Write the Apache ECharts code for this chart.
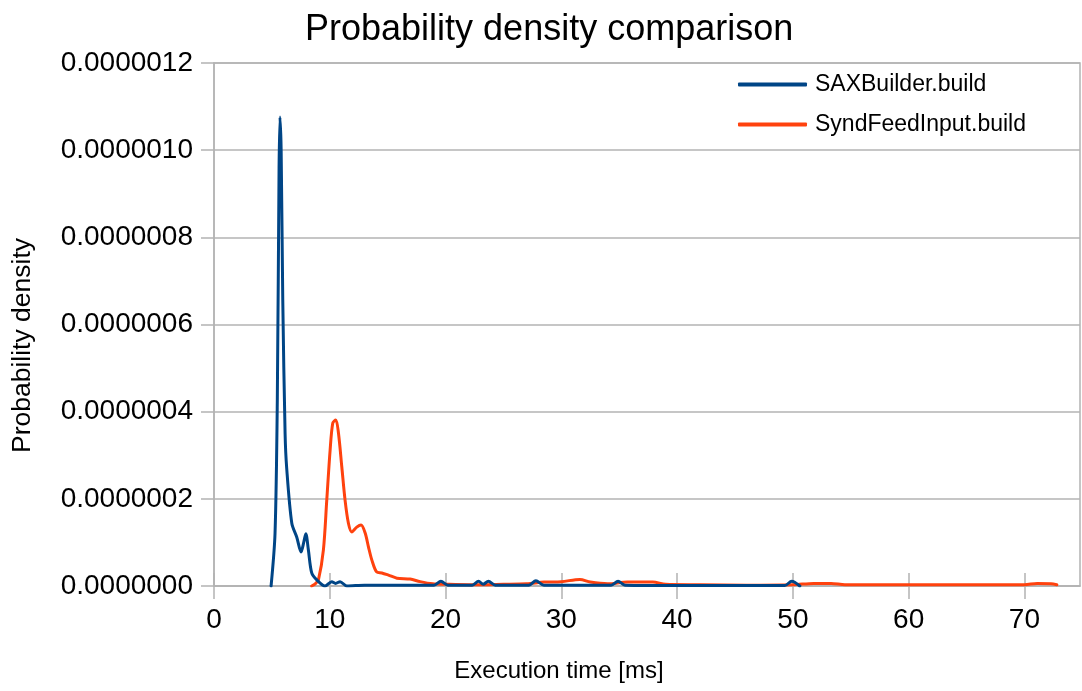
<!DOCTYPE html>
<html>
<head>
<meta charset="utf-8">
<script src="https://cdn.jsdelivr.net/npm/echarts@6/dist/echarts.min.js"></script>
<style>html,body{margin:0;padding:0;background:#fff}#c{width:1082px;height:691px}</style>
</head>
<body>
<div id="c"></div>
<script>
const titleText = 'Probability density comparison';
const seriesNames = ['SAXBuilder.build', 'SyndFeedInput.build'];
const xTicks = [0, 10, 20, 30, 40, 50, 60, 70];
const yTicks = [0, 0.0000002, 0.0000004, 0.0000006, 0.0000008, 0.000001, 0.0000012];

// [execution time ms, density x 1e-6]
const saxBuilder = [
  [4.93,0],[5.27,0.12],[5.47,0.43],[5.62,0.96],[5.70,1.076],[5.80,1.0],[5.94,0.656],
  [6.14,0.35],[6.28,0.27],[6.72,0.144],[7.15,0.112],[7.52,0.078],[7.75,0.1],[7.93,0.12],
  [8.15,0.083],[8.44,0.03],[8.88,0.014],[9.59,0.0],[10.17,0.01],[10.5,0.006],[10.89,0.01],
  [11.47,0.0],[13,0.002],[16,0.002],[19.0,0.002],[19.6,0.011],[20.2,0.002],[22.3,0.002],
  [22.85,0.011],[23.25,0.004],[23.7,0.011],[24.3,0.002],[27.2,0.002],[27.8,0.012],[28.5,0.002],
  [34.3,0.002],[34.9,0.011],[35.5,0.002],[40,0.001],[45,0.001],[49.3,0.001],[49.9,0.011],[50.6,0.0]
];
const syndFeedInput = [
  [8.44,0],[8.75,0.005],[9.02,0.014],[9.45,0.083],[9.74,0.197],[10.03,0.312],[10.26,0.374],[10.52,0.381],
  [10.75,0.351],[11.04,0.273],[11.32,0.197],[11.61,0.144],[11.9,0.124],[12.33,0.135],[12.7,0.14],
  [13.05,0.122],[13.34,0.09],[13.63,0.06],[14.06,0.032],[14.5,0.03],[15.07,0.025],[15.8,0.018],
  [16.94,0.016],[17.8,0.01],[18.9,0.005],[20,0.004],[22,0.003],[25,0.004],[27,0.005],[28.5,0.009],
  [30,0.01],[31.6,0.015],[32.5,0.009],[34,0.005],[35.7,0.009],[37.9,0.009],[39,0.004],[42,0.003],
  [46,0.002],[50,0.003],[51.8,0.006],[53.3,0.006],[54.5,0.003],[60,0.003],[65,0.003],[70,0.003],
  [71.1,0.006],[72.3,0.005],[72.8,0.003]
];

const toDensity = arr => arr.map(p => [p[0], p[1] * 1e-6]);
const FONT = '"Liberation Sans", Arial, sans-serif';
const GRAY = '#b3b3b3';

const chart = echarts.init(document.getElementById('c'), null, {renderer: 'canvas'});
chart.setOption({
  animation: false,
  backgroundColor: '#fff',
  title: {
    text: titleText, left: 305, top: 12, padding: 0,
    textStyle: {fontFamily: FONT, fontSize: 36, fontWeight: 'normal', color: '#000'}
  },
  legend: {
    orient: 'vertical', left: 738, top: 73, padding: 0, itemWidth: 69, itemHeight: 4, itemGap: 17,
    icon: 'roundRect',
    textStyle: {fontFamily: FONT, fontSize: 23, color: '#000', lineHeight: 22, padding: [0, 0, 0, 3]},
    data: seriesNames
  },
  grid: {left: 214, right: 2, top: 63, bottom: 105, show: true, borderColor: GRAY, borderWidth: 1.5, containLabel: false},
  xAxis: [{
    type: 'value', min: 0, max: 74.8,
    name: 'Execution time [ms]', nameLocation: 'middle', nameGap: 73,
    nameTextStyle: {fontFamily: FONT, fontSize: 24, color: '#000', padding: [0, 176, 0, 0]},
    axisLine: {show: true, lineStyle: {color: GRAY, width: 1.5}},
    axisTick: {show: true, length: 13, lineStyle: {color: GRAY, width: 1.5}, customValues: xTicks},
    axisLabel: {fontFamily: FONT, fontSize: 28, color: '#000', margin: 20, customValues: xTicks},
    splitLine: {show: false}
  }, {
    type: 'value', min: 0, max: 74.8, position: 'bottom',
    axisLine: {show: false},
    axisTick: {show: true, inside: true, length: 13, lineStyle: {color: GRAY, width: 1.5}, customValues: xTicks},
    axisLabel: {show: false},
    splitLine: {show: false}
  }],
  yAxis: {
    type: 'value', min: 0, max: 0.0000012, interval: 0.0000002,
    name: 'Probability density', nameLocation: 'middle', nameGap: 178,
    nameTextStyle: {fontFamily: FONT, fontSize: 26.5, color: '#000', padding: [0, 42, 0, 0]},
    axisLine: {show: true, lineStyle: {color: GRAY, width: 1.5}},
    axisTick: {show: true, length: 13, lineStyle: {color: GRAY, width: 1.5}},
    axisLabel: {fontFamily: FONT, fontSize: 28, color: '#000', margin: 21,
      formatter: v => v.toFixed(7)},
    splitLine: {show: true, lineStyle: {color: GRAY, width: 1.5}}
  },
  series: [{
    name: seriesNames[0], type: 'line', data: toDensity(saxBuilder), smooth: 0.3,
    symbol: 'none', lineStyle: {color: '#004586', width: 3, cap: 'round', join: 'round'},
    itemStyle: {color: '#004586'}, z: 3
  }, {
    name: seriesNames[1], type: 'line', data: toDensity(syndFeedInput), smooth: 0.3,
    symbol: 'none', lineStyle: {color: '#ff420e', width: 3, cap: 'round', join: 'round'},
    itemStyle: {color: '#ff420e'}, z: 2
  }]
});
</script>
</body>
</html>
